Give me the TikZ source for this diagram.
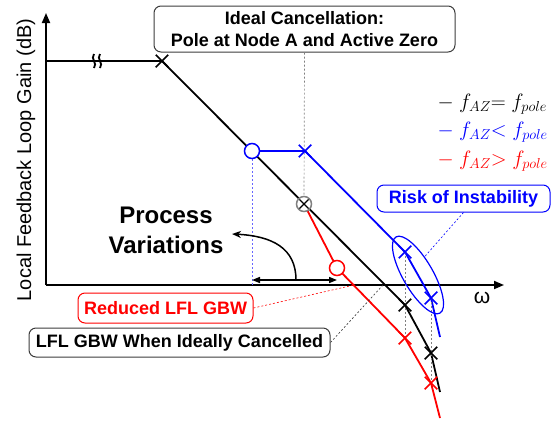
\documentclass[tikz,border=0pt]{standalone}
\usepackage{fontspec}
\setmainfont{Liberation Sans}
\usetikzlibrary{arrows.meta, positioning, shapes.geometric, shapes.misc}

\definecolor{azblue}{RGB}{0,0,255}
\definecolor{azred}{RGB}{255,0,0}
\definecolor{boxgray}{RGB}{60,60,60}

\tikzset{
  curve/.style={line width=1.8pt},
  pole/.style={cross out, draw, line width=1.5pt, minimum size=11pt, inner sep=0pt},
  zero/.style={circle, draw, fill=white, line width=1.5pt, minimum size=15pt, inner sep=0pt},
  callout/.style={draw, rounded corners=7pt, line width=1pt, inner sep=0pt,
    font=\bfseries\fontsize{18}{22}\selectfont, align=center},
  guide/.style={line width=0.7pt, dash pattern=on 2pt off 2pt},
}

\begin{document}
\begin{tikzpicture}[x=1pt, y=-1pt, >={Triangle[length=10pt, width=8pt]}]
    \useasboundingbox (0,0) rectangle (559,426);

    % axes
    \coordinate (O) at (46,285);
    \draw[line width=1.8pt, ->] (O) -- (46,13) coordinate (ytop);
    \draw[line width=1.8pt, ->] (O) -- (504,285) coordinate (xend);
    \node[rotate=90, font=\fontsize{20}{20}\selectfont] (ylab) at (26,160) {Local Feedback Loop Gain (dB)};
    \node[font=\fontsize{21}{21}\selectfont] (wlab) at (482,298) {ω};

    % poles, zeros and the cancellation point
    \coordinate (k0) at (46,61);
    \coordinate (kp1) at (162,61);
    \coordinate (kp2) at (405,305);
    \coordinate (kp3) at (431,353);
    \coordinate (kend) at (440,392);
    \coordinate (bz) at (252,151);
    \coordinate (bp1) at (305,151);
    \coordinate (bp2) at (405,252);
    \coordinate (bp3) at (431,298);
    \coordinate (bend) at (440,337);
    \coordinate (cz) at (304,204);
    \coordinate (rz) at (337,268);
    \coordinate (rp2) at (405,338);
    \coordinate (rp3) at (431,383);
    \coordinate (rend) at (440,418);
    % where the gain lines cross 0 dB
    \coordinate (kx) at (383,285);
    \coordinate (rx) at (354,285);

    \draw[curve] (k0) -- (kp1) -- (kp2) -- (kp3) -- (kend);
    \draw[curve, azred] (cz) -- (rz) -- (rp2) -- (rp3) -- (rend);
    \draw[curve, azblue] (bz) -- (bp1) -- (bp2) -- (bp3) -- (bend);

    % break on the low frequency part
    \foreach \bx in {94,100}
        \draw[line width=1.8pt] (\bx,54) .. controls (\bx-4,59) and (\bx+4,63) .. (\bx,68);

    \node[callout, draw=boxgray, minimum width=301pt, minimum height=46pt] (ideal) at (304.5,29)
        {Ideal Cancellation:\\Pole at Node A and Active Zero};

    \draw[guide, gray] (ideal.south) -- (cz);
    \draw[guide, azblue!60] (bz) -- (bz |- O);
    \draw[guide, gray] (bp2) -- (rp2);
    \draw[guide, gray] (bp3) -- (rp3);

    \foreach \p/\col in {kp1/black, kp2/black, kp3/black, bp1/azblue, bp2/azblue, bp3/azblue, rp2/azred, rp3/azred}
        \node[pole, draw=\col] (\p-mark) at (\p) {};
    \node[zero, draw=azblue] (bz-mark) at (bz) {};
    \node[zero, draw=azred] (rz-mark) at (rz) {};
    \node[zero, draw=gray] (cz-mark) at (cz) {};
    \node[pole, minimum size=8pt, line width=1.2pt] (cz-x) at (cz) {};

    % spread of the zero
    \coordinate (vl) at (252,280);
    \coordinate (vr) at (337,280);
    \coordinate (vmid) at (296,280);
    \coordinate (vtip) at (232,234);
    \draw[line width=1.5pt, {Triangle[length=8pt, width=6pt]}-{Triangle[length=8pt, width=6pt]}] (vl) -- (vr);
    \draw[line width=1.5pt, -{Stealth[length=9pt, width=7pt]}] (vmid) .. controls (296,248) and (272,236) .. (vtip);
    \node[font=\bfseries\fontsize{24}{30}\selectfont, align=center] (procvar) at (166,230) {Process\\Variations};

    \node[callout, draw=azred, text=azred, minimum width=175pt, minimum height=30pt] (reduced) at (165.5,308) {Reduced LFL GBW};
    \node[callout, draw=boxgray, minimum width=301pt, minimum height=29pt] (idealgbw) at (179.5,342.5) {LFL GBW When Ideally Cancelled};
    \draw[guide, azred, line width=0.6pt] (reduced.east) -- (rx);
    \draw[guide, boxgray, line width=0.6pt] (idealgbw.east) -- (kx);

    % high frequency poles
    \node[ellipse, draw=azblue, line width=1.2pt, minimum width=88pt, minimum height=30pt, inner sep=0pt, rotate=-60] (zone) at (418,275) {};
    \node[callout, draw=azblue, text=azblue, minimum width=173pt, minimum height=27pt] (risk) at (463.5,198.5) {Risk of Instability};
    \draw[guide, azblue, line width=0.6pt] (risk.south) -- (zone.130);

    \foreach \row/\rel/\col in {0/=/black, 1/</azblue, 2/>/azred}
        \node[anchor=west, text=\col, font=\fontsize{20}{20}\selectfont] (leg\row) at (434,104+28.5*\row)
            {$-\ f_{AZ}{\rel}\ f_{pole}$};
\end{tikzpicture}
\end{document}
